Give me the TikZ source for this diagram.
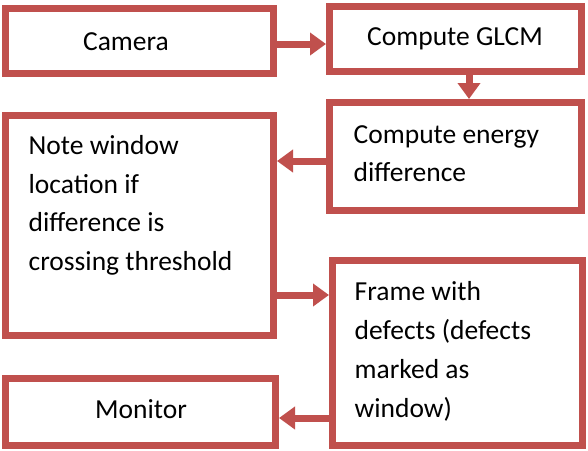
\documentclass[tikz,border=0pt]{standalone}
\usepackage{fontspec}
\setmainfont{Carlito}
\usetikzlibrary{arrows.meta}
\definecolor{boxred}{HTML}{C0504D}
\begin{document}
\begin{tikzpicture}[x=1pt,y=-1pt,
  box/.style={draw=boxred,line width=7pt,fill=white,rectangle,inner sep=0pt,outer sep=3.5pt},
  lbl/.style={inner sep=0pt,font=\fontsize{27.5pt}{38.7pt}\selectfont,align=left},
  arr/.style={draw=boxred,line width=7pt,-{Triangle[length=16pt,width=22pt]}}]
\useasboundingbox (0,0) rectangle (588,450);
\node[box,minimum width=268pt,minimum height=65pt] (cam) at (139.5,41) {};
\node[box,minimum width=252pt,minimum height=65pt] (glcm) at (455.5,39) {};
\node[box,minimum width=252pt,minimum height=108pt] (energy) at (455.5,156.5) {};
\node[box,minimum width=268pt,minimum height=220pt] (note) at (139.5,225.5) {};
\node[box,minimum width=250pt,minimum height=185pt] (frame) at (457.5,353) {};
\node[box,minimum width=270pt,minimum height=67pt] (mon) at (140.5,412) {};
\node[lbl,anchor=base] (tcam) at (126,50) {Camera};
\node[lbl,anchor=base] (tglcm) at (455,45) {Compute GLCM};
\node[lbl,anchor=base west] (tenergy) at (353.5,181.7) {Compute energy\\difference};
\node[lbl,anchor=base west] (tnote) at (28.5,270.5) {Note window\\location if\\difference is\\crossing threshold};
\node[lbl,anchor=base west] (tframe) at (354.5,417) {Frame with\\defects (defects\\marked as\\window)};
\node[lbl,anchor=base] (tmon) at (141,418) {Monitor};
\coordinate (y1) at (0,44);
\coordinate (x2) at (469,0);
\coordinate (y3) at (0,161);
\coordinate (y4) at (0,295);
\coordinate (y5) at (0,418);
\draw[arr] (cam.east |- y1) -- (glcm.west |- y1);
\draw[arr] (glcm.south -| x2) -- (energy.north -| x2);
\draw[arr] (energy.west |- y3) -- (note.east |- y3);
\draw[arr] (note.east |- y4) -- (frame.west |- y4);
\draw[arr] (frame.west |- y5) -- (mon.east |- y5);
\end{tikzpicture}
\end{document}
